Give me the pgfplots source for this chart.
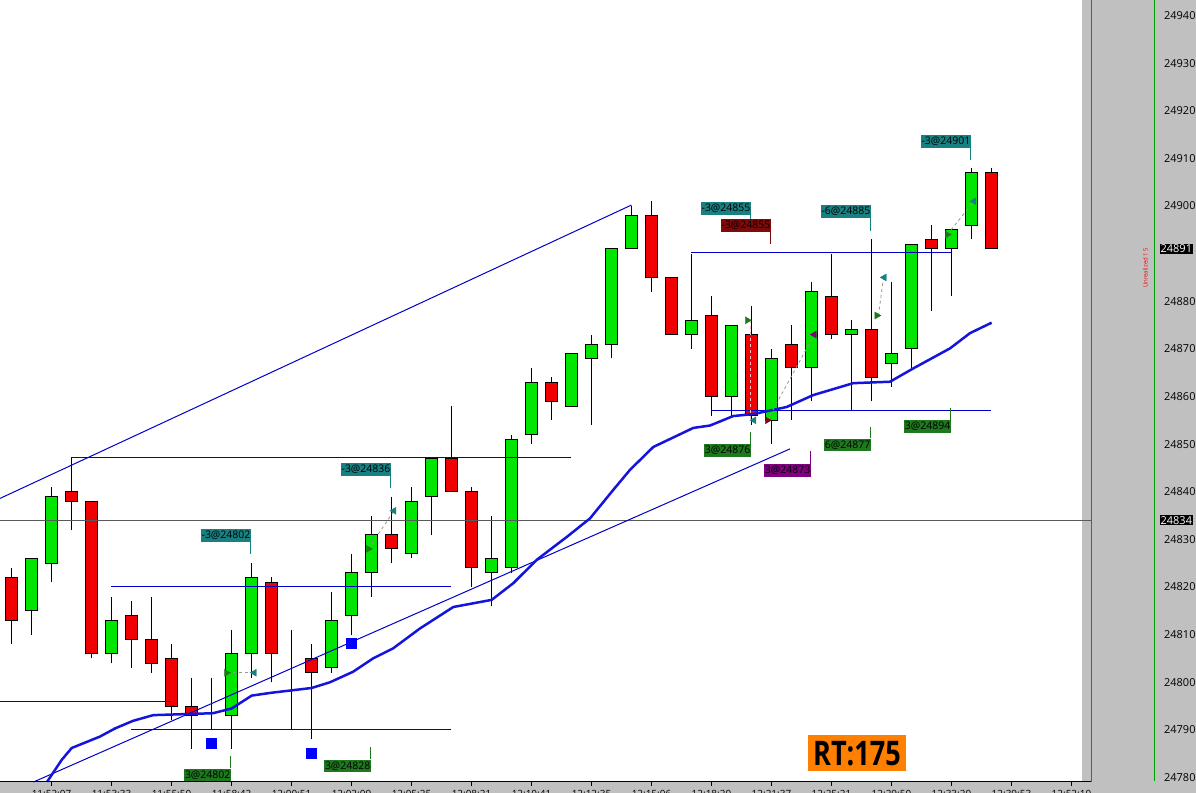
\documentclass[border=0pt]{standalone}
\usepackage{fontspec}
\setmainfont{Open Sans}
\usepackage{graphicx}
\usepackage{pgfplots}
\pgfplotsset{compat=1.18}
\usepackage{pgfplotstable}

\definecolor{cpanel}{RGB}{192,192,192}
\definecolor{cgreen}{RGB}{0,230,0}
\definecolor{cred}{RGB}{240,0,0}
\definecolor{cteal}{RGB}{24,128,128}
\definecolor{cdgreen}{RGB}{30,120,30}
\definecolor{cdred}{RGB}{128,10,10}
\definecolor{cpurple}{RGB}{128,0,128}
\definecolor{corange}{RGB}{255,128,0}
\definecolor{cline}{RGB}{0,0,200}
\definecolor{cema}{RGB}{20,20,220}
\definecolor{cpgreen}{RGB}{0,160,0}
\definecolor{cdash}{RGB}{150,150,150}
\definecolor{cpink}{RGB}{240,190,190}
\definecolor{clevel}{RGB}{90,90,90}

% candles: index, open, high, low, close
\pgfplotstableread{
i  O     H     L     C
1  24822 24824 24808 24813
2  24815 24826 24810 24826
3  24825 24841 24821 24839
4  24840 24847 24832 24838
5  24838 24838 24805 24806
6  24806 24818 24804 24813
7  24814 24817 24803 24809
8  24809 24818 24802 24804
9  24805 24808 24792 24795
10 24795 24801 24786 24793
11 24794 24801 24790 24794
12 24793 24811 24786 24806
13 24806 24825 24801 24822
14 24821 24822 24800 24806
15 24806 24811 24790 24806
16 24805 24808 24788 24802
17 24803 24819 24802 24813
18 24814 24827 24810 24823
19 24823 24835 24818 24831
20 24831 24839 24825 24828
21 24827 24841 24826 24838
22 24839 24847 24831 24847
23 24847 24858 24840 24840
24 24840 24841 24820 24824
25 24823 24835 24816 24826
26 24824 24852 24823 24851
27 24852 24866 24850 24863
28 24863 24864 24855 24859
29 24858 24869 24858 24869
30 24868 24873 24854 24871
31 24871 24891 24868 24891
32 24891 24900 24891 24898
33 24898 24901 24882 24885
34 24885 24885 24873 24873
35 24873 24890 24870 24876
36 24877 24881 24856 24860
37 24860 24875 24856 24875
38 24873 24879 24854 24856
39 24855 24870 24850 24868
40 24871 24875 24855 24866
41 24866 24884 24859 24882
42 24881 24890 24872 24873
43 24873 24876 24857 24874
44 24874 24893 24859 24864
45 24867 24884 24862 24869
46 24870 24892 24866 24892
47 24893 24896 24878 24891
48 24891 24895 24881 24895
49 24896 24908 24893 24907
50 24907 24908 24891 24891
}\candles

% moving average
\pgfplotstableread{
i      p
2.78   24779.1
3.51   24783.7
4.01   24786.2
5.425  24788.6
6.175  24790.3
7.075  24791.9
8.09   24793.1
11.075 24793.5
12.01  24794.5
13.01  24797.2
14.0   24797.8
16.01  24798.8
16.925 24800.0
18.075 24802.2
19.075 24805.0
20.075 24807.1
21.425 24811.3
23.09  24815.8
25.01  24817.3
26.09  24820.8
27.26  24825.7
28.76  24830.5
29.925 24834.4
31.09  24840.4
31.925 24844.6
33.09  24849.4
35.09  24853.4
35.925 24853.9
37.09  24855.9
38.09  24856.3
39.76  24857.8
41.09  24860.3
43.09  24862.8
44.925 24863.1
46.09  24865.9
47.925 24870.1
48.925 24873.3
50.01  24875.5
}\ema

\pgfplotsset{
    chart/.style={
            scale only axis,
            width=1082bp,
            height=782bp,
            at={(0bp,11bp)},
            anchor=south west,
            xmin=0.425, xmax=54.525,
            ymin=24779.06, ymax=24943.25,
            axis line style={draw=none},
        },
}
\tikzset{
    lab/.style={font=\fontsize{10.5}{12}\selectfont, inner xsep=1bp, inner ysep=0.5bp,
            minimum height=12.5bp, text=black},
    pbox/.style={fill=black, text=white, anchor=west, inner xsep=1bp, inner ysep=1bp,
            font=\fontsize{11}{12}\selectfont},
}

\begin{document}
\begin{tikzpicture}
    \fill[cpanel] (0bp,0bp) rectangle (1196bp,793bp);

    % wicks
    \begin{axis}[chart, ticks=none, axis background/.style={fill=white}]
        \addplot[draw=none, mark=none,
            error bars/.cd, y dir=plus, y explicit, error mark=none,
            error bar style={draw=black, solid, line width=1bp}]
        table[x=i, y=L, y error expr=\thisrow{H}-\thisrow{L}] {\candles};
    \end{axis}

    % bodies (stacked on an invisible base, prices offset by 24700)
    \begin{axis}[chart, ticks=none, ymin=79.06, ymax=243.25,
            ybar stacked, bar width=11.5bp]
        \addplot[draw=none, fill=none] table[x=i, y expr={min(\thisrow{O},\thisrow{C})-24700}] {\candles};
        \addplot[draw=black, line width=1bp, fill=cgreen] table[x=i, y expr={max(\thisrow{C}-\thisrow{O},0)}] {\candles};
        \addplot[draw=black, line width=1bp, fill=cred] table[x=i, y expr={max(\thisrow{O}-\thisrow{C},0)}] {\candles};
    \end{axis}

    % lines, markers, labels
    \begin{axis}[chart, clip=false,
            xtick={3,6,...,54},
            xticklabels={11:52:07, 11:53:33, 11:55:50, 11:58:42, 12:00:51, 12:02:09,
                    12:05:25, 12:08:21, 12:10:41, 12:12:35, 12:15:06, 12:18:20,
                    12:21:37, 12:25:21, 12:29:50, 12:33:20, 12:39:53, 12:52:10},
            xtick pos=left, tick align=outside, major tick length=4bp,
            xtick style={draw=black, line width=1bp},
            xticklabel style={font=\fontsize{10}{12}\selectfont, inner sep=1bp, yshift=-3bp},
            ytick={24780,24790,24800,24810,24820,24830,24840,24850,24860,24870,24880,24900,24910,24920,24930,24940},
            scaled y ticks=false,
            ytick pos=right, yticklabel pos=right,
            ytick style={draw=none},
            yticklabel style={anchor=west, xshift=78bp, inner sep=0pt,
                    font=\fontsize{11}{12}\selectfont},
            /pgf/number format/1000 sep={},
            /pgf/number format/assume math mode=true,
        ]

        % price level line
        \addplot[clevel, line width=1bp] coordinates {(0.425,24834) (55.025,24834)};

        % trend lines
        \addplot[cline, line width=1bp] coordinates {(0.425,24838.6) (32,24900.2)};
        \addplot[cline, line width=1bp] coordinates {(2.1,24779.06) (39.925,24849.0)};

        % horizontal levels
        \addplot[cline, line width=1bp] coordinates {(4,24847.2) (28.96,24847.2)};
        \addplot[cline, line width=1bp] coordinates {(6,24820.1) (23,24820.1)};
        \addplot[cline, line width=1bp] coordinates {(0.425,24796) (9,24796)};
        \addplot[cline, line width=1bp] coordinates {(7,24790.1) (23,24790.1)};
        \addplot[cline, line width=1bp] coordinates {(35,24890.2) (48,24890.2)};
        \addplot[cline, line width=1bp] coordinates {(36,24857.1) (50,24857.1)};

        % moving average
        \addplot[cema, line width=2.5bp, line join=round] table[x=i, y=p] {\ema};

        % trade connectors
        \addplot[cdash, dashed, line width=0.8bp] coordinates {(11.76,24802) (13.14,24802)};
        \addplot[cdash, dashed, line width=0.8bp] coordinates {(18.84,24828) (20.125,24836)};
        \addplot[cpink, dashed, line width=0.8bp] coordinates {(37.95,24876) (37.95,24855)};
        \addplot[cdash, dashed, line width=0.8bp] coordinates {(38.79,24855) (41.14,24873)};
        \addplot[cdash, dashed, line width=0.8bp] coordinates {(44.35,24877) (44.6,24885)};
        \addplot[cdash, dashed, line width=0.8bp] coordinates {(47.79,24894) (49.125,24901)};

        % squares
        \addplot[only marks, mark=square*, mark size=5bp, mark options={fill=blue, draw=blue}]
        coordinates {(10.975,24787.3) (15.975,24785.2) (17.975,24808.3)};

        % entry / exit triangles
        \addplot[only marks, mark=triangle*, mark size=4bp, mark options={rotate=-90, fill=cdgreen, draw=cdgreen}]
        coordinates {(11.76,24802) (18.84,24828) (37.79,24876) (44.27,24877) (47.79,24894)};
        \addplot[only marks, mark=triangle*, mark size=4bp, mark options={rotate=90, fill=cteal, draw=cteal}]
        coordinates {(13.14,24802) (20.125,24836) (38.125,24855) (44.64,24885) (49.125,24901)};
        \addplot[only marks, mark=triangle*, mark size=4bp, mark options={rotate=-90, fill=cdred, draw=cdred}]
        coordinates {(38.79,24855)};
        \addplot[only marks, mark=triangle*, mark size=4bp, mark options={rotate=90, fill=cpurple, draw=cpurple}]
        coordinates {(41.14,24873)};

        % trade labels above
        \draw[cteal] ([xshift=-1bp]axis cs:13,24829.5) -- ([xshift=-1bp]axis cs:13,24826.9);
        \node[lab, fill=cteal, anchor=south east] at (axis cs:13,24829.5) {-3@24802};
        \draw[cteal] ([xshift=-1bp]axis cs:20,24843.3) -- ([xshift=-1bp]axis cs:20,24840.7);
        \node[lab, fill=cteal, anchor=south east] at (axis cs:20,24843.3) {-3@24836};
        \draw[cteal] ([xshift=-1bp]axis cs:38,24898.1) -- ([xshift=-1bp]axis cs:38,24895.2);
        \draw[cdred] ([xshift=-1bp]axis cs:39,24894.6) -- ([xshift=-1bp]axis cs:39,24892.0);
        \node[lab, fill=cdred, anchor=south east] at (axis cs:39,24894.6) {-3@24855};
        \node[lab, fill=cteal, anchor=south east] at (axis cs:38,24898.1) {-3@24855};
        \draw[cteal] ([xshift=-1bp]axis cs:44,24897.5) -- ([xshift=-1bp]axis cs:44,24894.8);
        \node[lab, fill=cteal, anchor=south east] at (axis cs:44,24897.5) {-6@24885};
        \draw[cteal] ([xshift=-1bp]axis cs:49,24912.2) -- ([xshift=-1bp]axis cs:49,24909.7);
        \node[lab, fill=cteal, anchor=south east] at (axis cs:49,24912.2) {-3@24901};

        % trade labels below
        \draw[cdgreen] ([xshift=-1bp]axis cs:38,24850.0) -- ([xshift=-1bp]axis cs:38,24852.5);
        \node[lab, fill=cdgreen, anchor=north east] at (axis cs:38,24850.0) {3@24876};
        \draw[cpurple] ([xshift=-1bp]axis cs:41,24845.8) -- ([xshift=-1bp]axis cs:41,24848.6);
        \node[lab, fill=cpurple, anchor=north east] at (axis cs:41,24845.8) {3@24873};
        \draw[cdgreen] ([xshift=-1bp]axis cs:44,24851.2) -- ([xshift=-1bp]axis cs:44,24853.5);
        \node[lab, fill=cdgreen, anchor=north east] at (axis cs:44,24851.2) {6@24877};
        \draw[cdgreen] ([xshift=-1bp]axis cs:48,24855.1) -- ([xshift=-1bp]axis cs:48,24857.5);
        \node[lab, fill=cdgreen, anchor=north east] at (axis cs:48,24855.1) {3@24894};
        \draw[cdgreen] ([xshift=-1bp]axis cs:12,24781.9) -- ([xshift=-1bp]axis cs:12,24784.5);
        \node[lab, fill=cdgreen, anchor=north east] at (axis cs:12,24781.9) {3@24802};
        \draw[cdgreen] ([xshift=-1bp]axis cs:19,24783.8) -- ([xshift=-1bp]axis cs:19,24786.5);
        \node[lab, fill=cdgreen, anchor=north east] at (axis cs:19,24783.8) {3@24828};

        % RT box
        \node[fill=corange, minimum width=98bp, minimum height=36bp, inner sep=0pt,
            font=\bfseries\fontsize{34}{36}\selectfont] at (axis cs:43.275,24785.1)
        {\scalebox{0.8}[1]{RT:175}};

        % bottom axis line
        \draw[black, line width=1bp] (axis cs:0.425,24779.06) -- (axis cs:55.025,24779.06);

        % panel separators
        \draw[cpgreen, line width=1bp] (axis cs:55.025,24779.06) -- (axis cs:55.025,24943.25);
        \draw[cpgreen, line width=1bp] (axis cs:58.175,24779.3) -- (axis cs:58.175,24943.25);

        % current price boxes
        \node[pbox] at (axis cs:58.4,24891) {24891};
        \node[pbox] at (axis cs:58.4,24834) {24834};

        % unrealized note
        \node[rotate=90, text=red, font=\fontsize{6}{6}\selectfont, inner sep=0pt]
        at (axis cs:57.7,24887) {Unrealized 1 5};
    \end{axis}

    \pgfresetboundingbox
    \path[use as bounding box] (0bp,0bp) rectangle (1196bp,793bp);
\end{tikzpicture}
\end{document}
